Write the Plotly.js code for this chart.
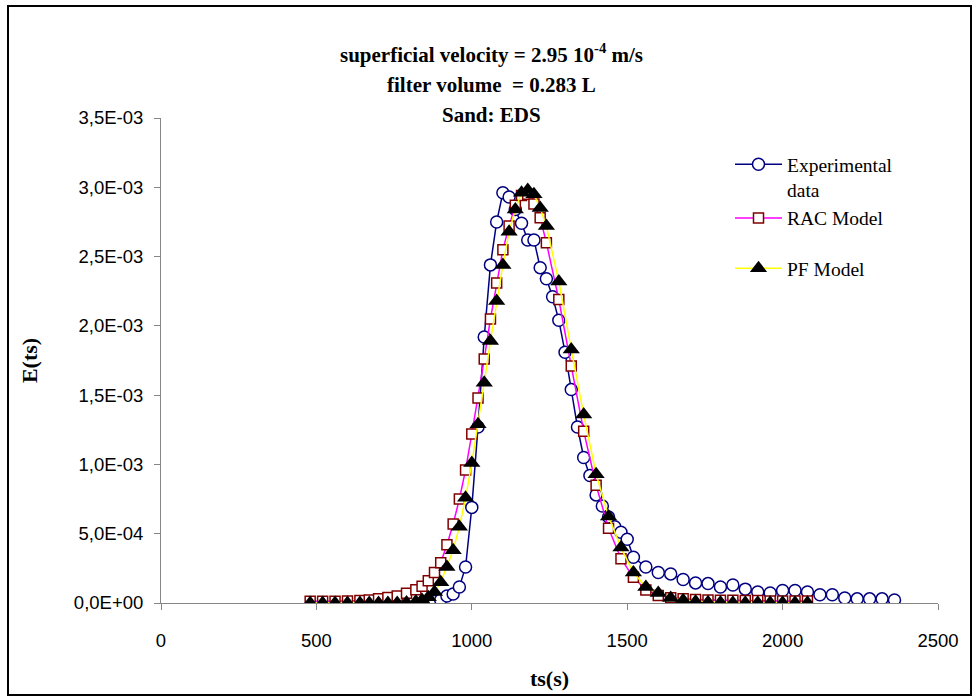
<!DOCTYPE html>
<html>
<head>
<meta charset="utf-8">
<script src="https://cdn.plot.ly/plotly-3.0.1.min.js"></script>
<style>
  html, body { margin: 0; padding: 0; background: #fff; }
  #chart { width: 978px; height: 700px; }
</style>
</head>
<body>
<div id="chart"></div>
<script>
// ---------- data ----------
const expTime = [880, 900, 920, 940, 960, 980, 1000, 1020, 1040, 1060, 1080, 1100, 1120, 1140, 1160, 1180, 1200, 1220, 1240, 1260, 1280, 1300, 1320, 1340, 1360, 1380, 1400, 1420, 1440, 1460, 1480, 1500, 1520, 1560, 1600, 1640, 1680, 1720, 1760, 1800, 1840, 1880, 1920, 1960, 2000, 2040, 2080, 2120, 2160, 2200, 2240, 2280, 2320, 2360];
const expE = [0.10e-4, 0.22e-4, 0.50e-4, 0.65e-4, 1.16e-4, 2.6e-4, 6.9e-4, 12.7e-4, 19.2e-4, 24.4e-4, 27.5e-4, 29.6e-4, 29.3e-4, 28.4e-4, 27.4e-4, 26.2e-4, 26.2e-4, 24.2e-4, 23.4e-4, 22.1e-4, 20.4e-4, 18.1e-4, 15.4e-4, 12.7e-4, 10.5e-4, 9.2e-4, 7.8e-4, 7.0e-4, 6.2e-4, 5.5e-4, 5.1e-4, 4.6e-4, 3.3e-4, 2.6e-4, 2.2e-4, 2.1e-4, 1.7e-4, 1.45e-4, 1.4e-4, 1.15e-4, 1.3e-4, 1.0e-4, 0.8e-4, 0.72e-4, 0.9e-4, 0.9e-4, 0.8e-4, 0.6e-4, 0.6e-4, 0.36e-4, 0.3e-4, 0.3e-4, 0.3e-4, 0.22e-4];

const modelTime = [480, 520, 560, 600, 640, 670, 700, 730, 760, 790, 820, 840, 860, 880, 900, 920, 940, 960, 980, 1000, 1020, 1040, 1060, 1080, 1100, 1120, 1140, 1160, 1180, 1200, 1220, 1240, 1280, 1320, 1360, 1400, 1440, 1480, 1520, 1560, 1600, 1640, 1680, 1720, 1760, 1800, 1840, 1880, 1920, 1960, 2000, 2040, 2080];
const racE = [0.12e-4, 0.12e-4, 0.12e-4, 0.15e-4, 0.18e-4, 0.22e-4, 0.3e-4, 0.4e-4, 0.5e-4, 0.7e-4, 0.95e-4, 1.2e-4, 1.6e-4, 2.2e-4, 2.9e-4, 4.2e-4, 5.7e-4, 7.5e-4, 9.6e-4, 12.2e-4, 14.8e-4, 17.6e-4, 20.5e-4, 23.1e-4, 25.5e-4, 27.2e-4, 28.7e-4, 29.4e-4, 29.5e-4, 28.8e-4, 27.8e-4, 26.0e-4, 21.9e-4, 17.1e-4, 12.4e-4, 8.5e-4, 5.4e-4, 3.2e-4, 1.85e-4, 0.94e-4, 0.55e-4, 0.38e-4, 0.3e-4, 0.25e-4, 0.22e-4, 0.2e-4, 0.2e-4, 0.18e-4, 0.18e-4, 0.15e-4, 0.15e-4, 0.15e-4, 0.15e-4];
const pfE = [0, 0, 0, 0, 0, 0, 0, 0, 0, 0.03e-4, 0.1e-4, 0.22e-4, 0.42e-4, 0.8e-4, 1.5e-4, 2.6e-4, 3.8e-4, 5.5e-4, 7.6e-4, 10.1e-4, 12.9e-4, 15.9e-4, 18.9e-4, 21.8e-4, 24.4e-4, 26.8e-4, 28.4e-4, 29.6e-4, 29.8e-4, 29.5e-4, 28.5e-4, 27.2e-4, 23.2e-4, 18.3e-4, 13.6e-4, 9.3e-4, 6.25e-4, 4.0e-4, 2.2e-4, 1.16e-4, 0.72e-4, 0.36e-4, 0.2e-4, 0.1e-4, 0.05e-4, 0.03e-4, 0.01e-4, 0.01e-4, 0.01e-4, 0.01e-4, 0.01e-4, 0.01e-4, 0.01e-4];

const xTickVals = [0, 500, 1000, 1500, 2000, 2500];
const xTickText = ['0', '500', '1000', '1500', '2000', '2500'];
const yTickVals = [0, 0.0005, 0.001, 0.0015, 0.002, 0.0025, 0.003, 0.0035];
const yTickText = ['0,0E+00', '5,0E-04', '1,0E-03', '1,5E-03', '2,0E-03', '2,5E-03', '3,0E-03', '3,5E-03'];

const seriesNames = ['Experimental<br>data', 'RAC Model', 'PF Model'];
const titleLines = ['<b>superficial velocity = 2.95 10<sup>-4</sup> m/s</b>', '<b>filter volume  = 0.283 L</b>', '<b>Sand: EDS</b>'];

// ---------- chart ----------
const serif = 'Liberation Serif, Times New Roman, serif';
const sans = 'Liberation Sans, Arial, sans-serif';

const traces = [
  {
    x: expTime, y: expE, name: seriesNames[0], type: 'scatter', mode: 'lines+markers',
    legendgroup: 'a',
    line: { color: '#000080', width: 1.5 },
    marker: { symbol: 'circle', size: 12, color: '#ffffff', line: { color: '#000080', width: 1.5 } }
  },
  {
    x: modelTime, y: racE, name: seriesNames[1], type: 'scatter', mode: 'lines+markers',
    legendgroup: 'a',
    line: { color: '#ff00ff', width: 1.5 },
    marker: { symbol: 'square', size: 10, color: '#ffffff', line: { color: '#800000', width: 1.5 } }
  },
  {
    x: modelTime, y: pfE, name: seriesNames[2], type: 'scatter', mode: 'lines+markers',
    legendgroup: 'b',
    line: { color: '#ffff00', width: 1.5 },
    marker: { symbol: 'triangle-up', size: 15, color: '#000000', line: { color: '#000000', width: 0 } }
  }
];

const L = 161, R = 40, T = 118, B = 97;
const W = 978, H = 700;
const pw = W - L - R, ph = H - T - B;
const px2paperX = p => (p - L) / pw;
const px2paperY = p => (H - B - p) / ph;

const layout = {
  width: W, height: H, autosize: false,
  margin: { l: L, r: R, t: T, b: B, pad: 0 },
  paper_bgcolor: '#ffffff', plot_bgcolor: '#ffffff',
  showlegend: true,
  legend: {
    x: px2paperX(730), y: px2paperY(145), xanchor: 'left', yanchor: 'top',
    font: { family: serif, size: 19.5, color: '#000000' },
    valign: 'top', bgcolor: 'rgba(0,0,0,0)', borderwidth: 0,
    itemwidth: 47, traceorder: 'grouped', tracegroupgap: 22
  },
  xaxis: {
    range: [0, 2500], showgrid: false, zeroline: false,
    showline: true, linecolor: '#868686', linewidth: 1,
    ticks: 'outside', ticklen: 6, tickcolor: '#868686', tickwidth: 1,
    tickmode: 'array', tickvals: xTickVals, ticktext: xTickText,
    tickfont: { family: sans, size: 18.5, color: '#000000' },
    ticklabelstandoff: 15,
    title: { text: '<b>ts(s)</b>', font: { family: serif, size: 22, color: '#000000' }, standoff: 20 }
  },
  yaxis: {
    range: [0, 0.0035], showgrid: false, zeroline: false,
    showline: true, linecolor: '#868686', linewidth: 1,
    ticks: 'outside', ticklen: 6, tickcolor: '#868686', tickwidth: 1,
    tickmode: 'array', tickvals: yTickVals, ticktext: yTickText,
    tickfont: { family: sans, size: 18.5, color: '#000000' },
    ticklabelstandoff: 7,
    title: { text: '<b>E(ts)</b>', font: { family: serif, size: 22, color: '#000000' }, standoff: 30 }
  },
  annotations: titleLines.map((t, i) => ({
    text: t, xref: 'paper', yref: 'paper',
    x: px2paperX(491), y: px2paperY([53, 85, 115][i]),
    xanchor: 'center', yanchor: 'middle', showarrow: false,
    font: { family: serif, size: 21, color: '#000000' }
  })),
  shapes: [{
    type: 'rect', xref: 'paper', yref: 'paper',
    x0: px2paperX(8), x1: px2paperX(971), y0: px2paperY(695), y1: px2paperY(6),
    line: { color: '#000000', width: 2 }, fillcolor: 'rgba(0,0,0,0)', layer: 'below'
  }]
};

Plotly.newPlot('chart', traces, layout, { displayModeBar: false, staticPlot: true });
</script>
</body>
</html>
